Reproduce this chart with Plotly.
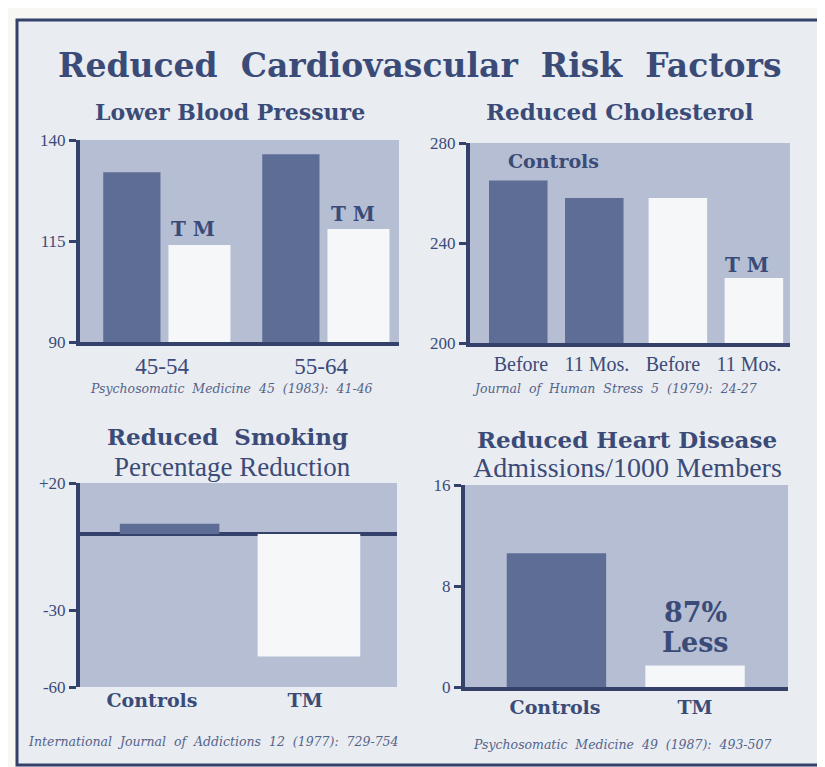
import plotly.graph_objects as go

W, H = 825, 767
OFF = 8  # page body margin compensation (px)

# ---------------- data ----------------
bp_groups = ["45-54", "55-64"]
bp_controls = [132, 136.5]
bp_tm = [114, 118]

chol_cats = ["Controls Before", "Controls 11 Mos.", "TM Before", "TM 11 Mos."]
chol_ticktext = ["Before", "11 Mos.", "Before", "11 Mos."]
chol_controls = [265, 258]
chol_tm = [258, 226]

smoke_cats = ["Controls", "TM"]
smoke_values = [4, -48]

heart_cats = ["Controls", "TM"]
heart_values = [10.6, 1.7]

# ---------------- style ----------------
NAVY = "#34426b"
TEXT = "#3b4b78"
CITE = "#55648a"
DARK_BAR = "#5d6d95"
LIGHT_BAR = "#f6f7f9"
PLOT_BG = "#b5bed3"
PAGE_BG = "#e9ecf1"
OUTSIDE = "#f8f7f4"
SERIF = "DejaVu Serif"
TIMES = "Liberation Serif"


def px_x(p):
    return (p - OFF) / W


def px_y(p):
    return 1 - (p - OFF) / H


fig = go.Figure()

# Panel 1 : blood pressure
fig.add_trace(go.Bar(x=bp_groups, y=bp_controls, name="Controls", marker_color=DARK_BAR,
                     offset=-0.37, width=0.36, xaxis="x", yaxis="y", showlegend=False))
fig.add_trace(go.Bar(x=bp_groups, y=bp_tm, name="TM", marker_color=LIGHT_BAR,
                     offset=0.04, width=0.39, xaxis="x", yaxis="y", showlegend=False))

# Panel 2 : cholesterol
fig.add_trace(go.Bar(x=chol_cats[:2], y=chol_controls, name="Controls", marker_color=DARK_BAR,
                     offset=-0.42, width=0.77, xaxis="x2", yaxis="y2", showlegend=False))
fig.add_trace(go.Bar(x=chol_cats[2:], y=chol_tm, name="TM", marker_color=LIGHT_BAR,
                     offset=-0.32, width=0.77, xaxis="x2", yaxis="y2", showlegend=False))

# Panel 3 : smoking
fig.add_trace(go.Bar(x=smoke_cats[:1], y=smoke_values[:1], name="Controls", marker_color=DARK_BAR,
                     offset=-0.21, width=0.65, xaxis="x3", yaxis="y3", showlegend=False))
fig.add_trace(go.Bar(x=smoke_cats[1:], y=smoke_values[1:], name="TM", marker_color=LIGHT_BAR,
                     offset=-0.31, width=0.67, xaxis="x3", yaxis="y3", showlegend=False))

# Panel 4 : heart disease
fig.add_trace(go.Bar(x=heart_cats[:1], y=heart_values[:1], name="Controls", marker_color=DARK_BAR,
                     offset=-0.345, width=0.71, xaxis="x4", yaxis="y4", showlegend=False))
fig.add_trace(go.Bar(x=heart_cats[1:], y=heart_values[1:], name="TM", marker_color=LIGHT_BAR,
                     offset=-0.355, width=0.71, xaxis="x4", yaxis="y4", showlegend=False))

yaxis_common = dict(showgrid=False, zeroline=False, showline=True, linewidth=4, linecolor=NAVY,
                    ticks="outside", ticklen=7, tickwidth=3, tickcolor=NAVY, automargin=False,
                    tickfont=dict(family=TIMES, size=17, color=TEXT), fixedrange=True)
xaxis_common = dict(showgrid=False, zeroline=False, showline=True, linewidth=4, linecolor=NAVY,
                    ticks="", fixedrange=True, automargin=False)

fig.update_layout(
    template="none",
    width=W, height=H, autosize=False,
    margin=dict(l=0, r=0, t=0, b=0, pad=0),
    paper_bgcolor=PAGE_BG,
    plot_bgcolor=PLOT_BG,
    barmode="overlay",
    showlegend=False,
    xaxis=dict(xaxis_common, domain=[px_x(80), px_x(399)], anchor="y",
               type="category", range=[-0.516, 1.49],
               tickfont=dict(family=TIMES, size=23, color=TEXT)),
    yaxis=dict(yaxis_common, domain=[px_y(342), px_y(140)], anchor="x",
               range=[90, 140], tickvals=[90, 115, 140]),
    xaxis2=dict(xaxis_common, domain=[px_x(470), px_x(790)], anchor="y2",
                type="category", categoryorder="array", categoryarray=chol_cats,
                range=[-0.67, 3.54], tickvals=chol_cats, ticktext=chol_ticktext,
                tickfont=dict(family=TIMES, size=20, color=TEXT)),
    yaxis2=dict(yaxis_common, domain=[px_y(343), px_y(143)], anchor="x2",
                range=[200, 280], tickvals=[200, 240, 280]),
    xaxis3=dict(xaxis_common, domain=[px_x(80), px_x(397)], anchor="y3",
                type="category", range=[-0.47, 1.6], showline=False,
                tickfont=dict(family=SERIF, size=19, color=TEXT, weight="bold")),
    yaxis3=dict(yaxis_common, domain=[px_y(687), px_y(483)], anchor="x3",
                range=[-60, 20], tickvals=[20, -30, -60], ticktext=["+20", "-30", "-60"],
                zeroline=True, zerolinewidth=4, zerolinecolor=NAVY),
    xaxis4=dict(xaxis_common, domain=[px_x(465), px_x(788)], anchor="y4",
                type="category", range=[-0.643, 1.664],
                tickfont=dict(family=SERIF, size=19, color=TEXT, weight="bold")),
    yaxis4=dict(yaxis_common, domain=[px_y(687), px_y(485)], anchor="x4",
                range=[0, 16], tickvals=[0, 8, 16]),
)

annotations = []


def txt(text, x, y, size, bold=False, italic=False, family=SERIF, color=TEXT):
    annotations.append(dict(
        text=text, x=px_x(x), y=px_y(y), xref="paper", yref="paper",
        showarrow=False, xanchor="center", yanchor="middle",
        font=dict(family=family, size=size, color=color,
                  weight="bold" if bold else "normal",
                  style="italic" if italic else "normal")))


# titles
txt("Reduced  Cardiovascular  Risk  Factors", 420, 66, 33, bold=True)
txt("Lower Blood Pressure", 230, 112, 22, bold=True)
txt("Reduced Cholesterol", 620, 112, 23, bold=True)
txt("Reduced  Smoking", 227, 436, 23, bold=True)
txt("Percentage Reduction", 232, 467, 27, family=TIMES)
txt("Admissions/1000 Members", 627, 467, 28, family=TIMES)
txt("Reduced Heart Disease", 627, 439, 23, bold=True)

# in-chart labels
txt("T M", 193, 229, 20, bold=True)
txt("T M", 353, 214, 20, bold=True)
txt("Controls", 553, 161, 19, bold=True)
txt("T M", 747, 265, 20, bold=True)
txt("87%", 695, 612, 27, bold=True)
txt("Less", 695, 642, 27, bold=True)

# citations
txt("Psychosomatic  Medicine  45  (1983):  41-46", 231, 388, 12.5, italic=True, color=CITE)
txt("Journal  of  Human  Stress  5  (1979):  24-27", 614, 388, 12.5, italic=True, color=CITE)
txt("International  Journal  of  Addictions  12  (1977):  729-754", 213, 741, 12.5, italic=True, color=CITE)
txt("Psychosomatic  Medicine  49  (1987):  493-507", 622, 744, 12.5, italic=True, color=CITE)

fig.update_layout(annotations=annotations)

# outer page strips and frame
fig.update_layout(shapes=[
    dict(type="rect", xref="paper", yref="paper", layer="below",
         x0=0, x1=1, y0=px_y(19), y1=1, line=dict(width=0), fillcolor=OUTSIDE),
    dict(type="rect", xref="paper", yref="paper", layer="below",
         x0=0, x1=px_x(16), y0=0, y1=1, line=dict(width=0), fillcolor=OUTSIDE),
    dict(type="rect", xref="paper", yref="paper", layer="below",
         x0=px_x(821), x1=1, y0=0, y1=1, line=dict(width=0), fillcolor=OUTSIDE),
    dict(type="rect", xref="paper", yref="paper", layer="below",
         x0=0, x1=1, y0=0, y1=px_y(767), line=dict(width=0), fillcolor=OUTSIDE),
    dict(type="rect", xref="paper", yref="paper", layer="above",
         x0=px_x(17), x1=px_x(820), y0=px_y(765), y1=px_y(20),
         line=dict(color=NAVY, width=3)),
])

fig.write_html("out.html")
